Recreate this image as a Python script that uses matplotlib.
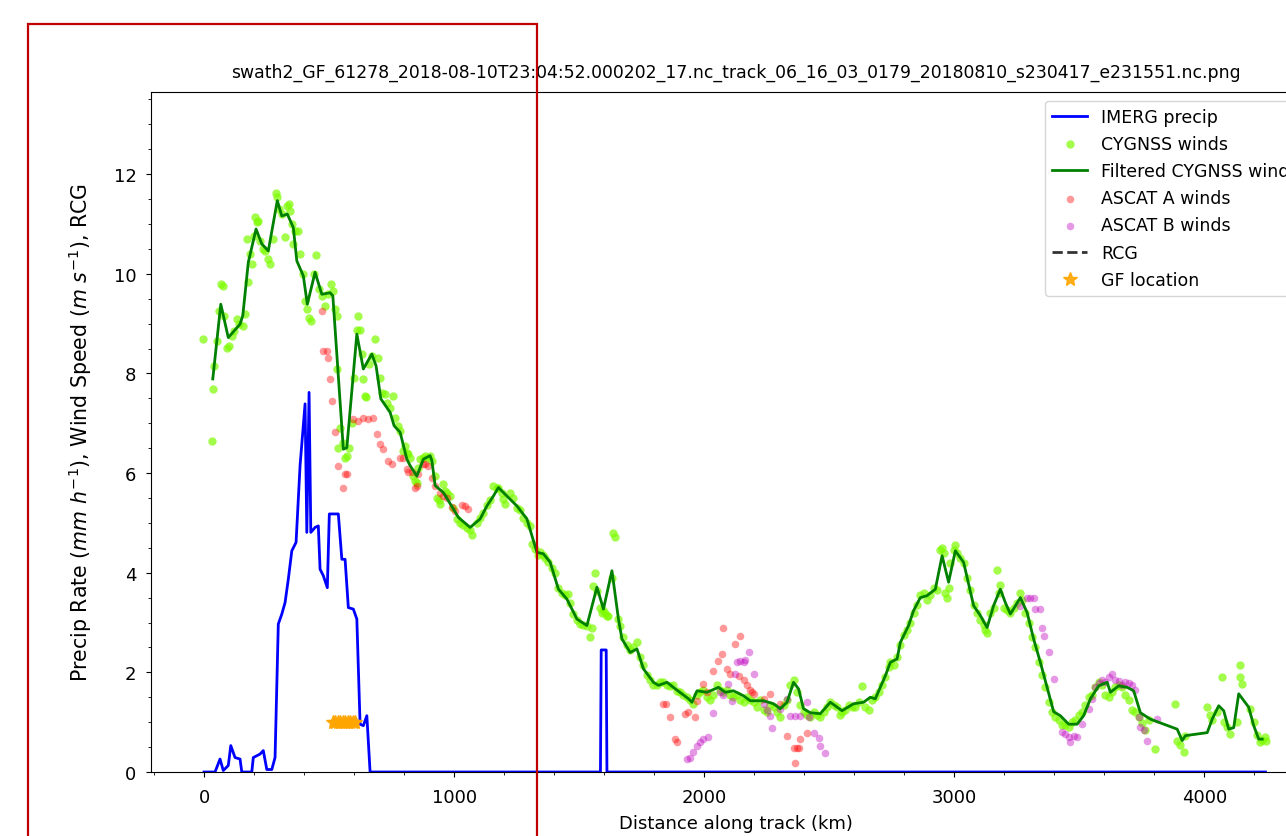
import matplotlib
matplotlib.use("Agg")
import matplotlib.pyplot as plt
from matplotlib.patches import Rectangle
from matplotlib.ticker import MultipleLocator

plt.rcParams['font.family'] = ['DejaVu Sans']

title = "swath2_GF_61278_2018-08-10T23:04:52.000202_17.nc_track_06_16_03_0179_20180810_s230417_e231551.nc.png"

# IMERG precip along track
imerg_x = [0, 44, 64, 77, 97, 107, 124, 144, 151, 191, 197, 224, 237, 251, 271, 284, 297, 311, 324,
           337, 351, 368, 384, 404, 411, 420, 427, 444, 457, 464, 477, 493, 501, 537, 551, 564, 577,
           597, 611, 624, 637, 651, 664, 1585, 1588, 1608, 1611, 4244]
imerg_y = [0, 0, 0.26, 0.03, 0.13, 0.53, 0.29, 0.26, 0, 0, 0.29, 0.36, 0.43, 0.05, 0.05, 0.29, 2.97,
           3.17, 3.40, 3.87, 4.44, 4.61, 6.15, 7.39, 4.81, 7.62, 4.81, 4.91, 4.94, 4.07, 3.94, 3.70,
           5.18, 5.18, 4.27, 4.27, 3.30, 3.27, 3.07, 0.96, 0.93, 1.13, 0, 0, 2.45, 2.45, 0, 0]

# raw CYGNSS winds
cyg_x = [-3, 31, 37, 40, 51, 60, 67, 75, 80, 92, 100, 110, 120, 131, 140, 157, 165, 171, 177, 185,
         191, 200, 204, 210, 217, 225, 237, 245, 255, 264, 277, 288, 293, 300, 310, 324, 331, 338, 344,
         350, 357, 365, 377, 385, 395, 404, 410, 421, 427, 440, 448, 460, 471, 484, 497, 507, 517, 524,
         531, 531, 537, 545, 557, 565, 571, 580, 590, 600, 611, 617, 624, 630, 637, 644, 648, 660, 670,
         684, 697, 705, 712, 724, 731, 744, 757, 765, 775, 784, 797, 805, 811, 817, 824, 837, 844, 851,
         857, 864, 877, 884, 891, 904, 911, 924, 931, 940, 944, 957, 965, 971, 984, 997, 1011, 1024,
         1037, 1050, 1064, 1071, 1091, 1104, 1117, 1131, 1144, 1157, 1170, 1177, 1190, 1197, 1204,
         1224, 1237, 1251, 1264, 1277, 1291, 1304, 1311, 1324, 1337, 1344, 1357, 1364, 1377, 1391,
         1404, 1417, 1431, 1444, 1457, 1464, 1477, 1491, 1504, 1517, 1531, 1544, 1551, 1557, 1564,
         1571, 1584, 1591, 1597, 1604, 1611, 1617, 1631, 1637, 1644, 1657, 1664, 1677, 1691, 1704,
         1717, 1731, 1744, 1757, 1771, 1784, 1797, 1811, 1824, 1837, 1851, 1864, 1877, 1891, 1904,
         1917, 1931, 1944, 1957, 1971, 1984, 1997, 2011, 2024, 2037, 2051, 2064, 2077, 2091, 2104,
         2117, 2131, 2144, 2157, 2171, 2184, 2197, 2211, 2224, 2237, 2251, 2264, 2277, 2291, 2304,
         2317, 2331, 2344, 2357, 2371, 2384, 2397, 2411, 2424, 2437, 2451, 2464, 2477, 2491, 2504,
         2517, 2531, 2544, 2551, 2564, 2577, 2591, 2604, 2617, 2631, 2644, 2657, 2671, 2684, 2697,
         2711, 2724, 2737, 2744, 2757, 2771, 2784, 2797, 2811, 2824, 2837, 2851, 2864, 2877, 2891,
         2904, 2917, 2931, 2944, 2951, 2957, 2964, 2971, 2977, 2984, 2997, 3004, 3011, 3024, 3037,
         3051, 3064, 3077, 3091, 3104, 3117, 3124, 3131, 3144, 3157, 3171, 3177, 3184, 3197, 3211,
         3224, 3237, 3251, 3264, 3271, 3284, 3297, 3311, 3324, 3337, 3351, 3364, 3377, 3391, 3404,
         3417, 3431, 3444, 3457, 3471, 3484, 3497, 3511, 3524, 3537, 3551, 3564, 3577, 3591, 3604,
         3617, 3631, 3644, 3657, 3671, 3684, 3697, 3711, 3724, 3737, 3751, 3764, 3777, 3804, 3884,
         3891, 3904, 3917, 3924, 4011, 4024, 4031, 4051, 4071, 4077, 4091, 4104, 4131, 4144, 4144,
         4151, 4184, 4197, 4211, 4224, 4231, 4241, 4248]
cyg_y = [8.70, 6.65, 7.69, 8.15, 8.66, 9.25, 9.79, 9.75, 9.15, 8.52, 8.55, 8.75, 8.85, 9.09, 9.00,
         8.95, 9.20, 10.70, 9.83, 10.40, 10.19, 10.75, 11.14, 11.05, 11.07, 10.65, 10.50, 10.45,
         10.30, 10.20, 10.70, 11.63, 11.55, 11.30, 11.20, 10.73, 11.36, 11.40, 11.26, 11.00, 10.60,
         10.85, 10.86, 10.40, 10.00, 9.46, 9.30, 9.12, 9.05, 10.00, 10.37, 9.70, 9.55, 9.36, 9.60,
         9.79, 9.66, 9.30, 9.16, 8.09, 6.51, 6.90, 6.60, 6.30, 6.35, 6.50, 7.00, 7.90, 8.88, 9.16,
         8.88, 8.40, 7.89, 7.55, 7.52, 8.20, 8.35, 8.69, 8.32, 7.90, 7.60, 7.59, 7.40, 7.30, 7.55,
         7.10, 6.95, 6.85, 6.45, 6.55, 6.40, 6.38, 6.30, 5.94, 5.85, 5.81, 6.10, 6.28, 6.30, 6.35,
         6.31, 6.35, 6.25, 5.94, 5.51, 5.45, 5.38, 5.78, 5.65, 5.60, 5.55, 5.30, 5.08, 5.00, 4.95,
         4.90, 4.85, 4.75, 5.00, 5.10, 5.20, 5.35, 5.45, 5.75, 5.70, 5.70, 5.60, 5.48, 5.38, 5.60,
         5.50, 5.30, 5.25, 5.10, 5.00, 4.94, 4.58, 4.48, 4.35, 4.41, 4.35, 4.30, 4.21, 4.10, 4.00,
         3.70, 3.60, 3.55, 3.57, 3.40, 3.17, 3.05, 2.98, 2.95, 2.94, 2.70, 2.90, 3.74, 4.00, 3.64,
         3.30, 3.20, 3.25, 3.20, 3.14, 3.14, 3.90, 4.80, 4.71, 3.07, 2.94, 2.70, 2.55, 2.45, 2.50,
         2.60, 2.30, 2.15, 1.95, 1.85, 1.75, 1.75, 1.80, 1.80, 1.75, 1.73, 1.75, 1.63, 1.60, 1.55,
         1.50, 1.45, 1.37, 1.55, 1.60, 1.65, 1.50, 1.45, 1.55, 1.75, 1.65, 1.60, 1.65, 1.55, 1.50,
         1.55, 1.45, 1.40, 1.50, 1.45, 1.40, 1.30, 1.45, 1.25, 1.20, 1.35, 1.30, 1.20, 1.10, 1.35,
         1.45, 1.75, 1.85, 1.60, 1.35, 1.20, 1.15, 1.10, 1.20, 1.15, 1.10, 1.20, 1.30, 1.40, 1.35,
         1.30, 1.15, 1.20, 1.25, 1.35, 1.30, 1.30, 1.40, 1.73, 1.30, 1.25, 1.45, 1.50, 1.60, 1.75,
         1.90, 2.10, 2.20, 2.15, 2.30, 2.55, 2.75, 2.85, 3.00, 3.20, 3.35, 3.55, 3.60, 3.45, 3.55,
         3.70, 3.65, 4.45, 4.50, 4.40, 3.60, 3.50, 3.70, 4.20, 4.45, 4.55, 4.40, 4.30, 4.20, 3.90,
         3.65, 3.35, 3.20, 3.05, 2.95, 2.85, 2.80, 3.20, 3.30, 4.05, 3.60, 3.75, 3.30, 3.25, 3.20,
         3.30, 3.40, 3.60, 3.45, 3.20, 3.00, 2.70, 2.50, 2.20, 1.95, 1.70, 1.40, 1.20, 1.10, 1.05,
         0.95, 0.95, 0.90, 1.00, 1.05, 1.15, 1.20, 1.35, 1.50, 1.55, 1.70, 1.80, 1.75, 1.55, 1.50,
         1.60, 1.70, 1.75, 1.70, 1.55, 1.45, 1.25, 1.20, 1.10, 0.98, 0.85, 1.05, 0.46, 1.37, 0.63,
         0.55, 0.40, 0.72, 1.30, 1.15, 1.05, 1.20, 1.90, 1.00, 0.90, 0.76, 1.00, 2.15, 1.90, 1.77,
         1.27, 1.00, 0.75, 0.60, 0.65, 0.70, 0.62]

# filtered CYGNSS winds
filt_x = [35, 67, 97, 144, 155, 177, 208, 231, 257, 293, 311, 333, 357, 371, 397, 413, 444, 471, 504,
          515, 557, 571, 611, 637, 671, 688, 707, 744, 760, 784, 811, 824, 851, 877, 904, 911, 924,
          957, 997, 1017, 1064, 1104, 1131, 1157, 1177, 1211, 1251, 1291, 1331, 1357, 1384, 1417,
          1451, 1491, 1531, 1571, 1597, 1631, 1657, 1671, 1704, 1731, 1757, 1797, 1817, 1851, 1884,
          1937, 1951, 1971, 2011, 2057, 2084, 2117, 2157, 2184, 2237, 2277, 2304, 2331, 2357, 2377,
          2397, 2424, 2464, 2504, 2551, 2597, 2637, 2664, 2684, 2724, 2744, 2771, 2784, 2817, 2837,
          2864, 2891, 2924, 2951, 2977, 3004, 3037, 3077, 3104, 3131, 3157, 3184, 3204, 3224, 3264,
          3291, 3317, 3344, 3371, 3397, 3424, 3457, 3491, 3517, 3544, 3577, 3611, 3624, 3657, 3691,
          3717, 3744, 3784, 3837, 3891, 3911, 3924, 4011, 4031, 4057, 4077, 4097, 4117, 4137, 4177,
          4197, 4217, 4231]
filt_y = [7.89, 9.39, 8.72, 8.99, 9.16, 10.23, 10.90, 10.60, 10.46, 11.47, 11.16, 11.20, 10.93,
          10.26, 9.96, 9.39, 10.03, 9.59, 9.62, 9.56, 6.48, 6.51, 8.79, 8.09, 8.39, 8.15, 7.49, 7.22,
          6.95, 6.82, 6.28, 6.15, 5.94, 6.28, 6.35, 6.25, 5.75, 5.61, 5.28, 5.11, 4.91, 5.08, 5.34,
          5.54, 5.71, 5.54, 5.34, 5.08, 4.41, 4.38, 4.21, 3.67, 3.47, 3.07, 2.94, 3.71, 3.27, 4.04,
          3.07, 2.67, 2.40, 2.47, 2.07, 1.80, 1.74, 1.80, 1.67, 1.47, 1.40, 1.63, 1.60, 1.70, 1.60,
          1.63, 1.53, 1.43, 1.43, 1.37, 1.27, 1.40, 1.80, 1.67, 1.27, 1.19, 1.17, 1.40, 1.23, 1.37,
          1.40, 1.50, 1.47, 1.93, 2.20, 2.27, 2.60, 2.94, 3.24, 3.50, 3.54, 3.67, 4.34, 3.81, 4.44,
          4.21, 3.34, 3.14, 2.90, 3.34, 3.67, 3.40, 3.17, 3.50, 3.20, 2.67, 2.20, 1.70, 1.21, 1.13,
          0.96, 0.96, 1.13, 1.47, 1.73, 1.80, 1.60, 1.73, 1.70, 1.63, 1.19, 1.06, 0.96, 0.86, 0.63,
          0.73, 0.79, 1.06, 1.33, 1.23, 0.86, 0.89, 1.57, 1.30, 0.93, 0.66, 0.66]

# ASCAT A winds
ascat_a_x = [471, 477, 491, 497, 504, 511, 524, 537, 557, 564, 571, 597, 617, 637, 657, 677, 691, 704,
             717, 737, 751, 784, 797, 811, 817, 831, 844, 851, 857, 877, 884, 897, 911, 924, 944,
             957, 971, 991, 1004, 1031, 1044, 1057, 1837, 1847, 1864, 1884, 1891, 1924, 1934, 1964,
             1971, 1997, 2011, 2037, 2057, 2071, 2077, 2091, 2104, 2124, 2137, 2144, 2157, 2171, 2184,
             2191, 2197, 2237, 2264, 2304, 2331, 2357, 2364, 2371, 2377, 2384, 2411]
ascat_a_y = [9.26, 8.46, 8.46, 8.32, 7.89, 7.45, 6.82, 6.15, 5.71, 5.98, 5.98, 7.08, 7.05, 7.10, 7.08,
             7.10, 6.78, 6.58, 6.48, 6.25, 6.18, 6.31, 6.31, 6.08, 6.03, 6.02, 5.71, 5.75, 5.98, 6.18,
             6.19, 6.15, 5.91, 5.75, 5.60, 5.55, 5.51, 5.31, 5.24, 5.35, 5.34, 5.28, 1.37, 1.37, 1.10,
             0.66, 0.60, 1.16, 1.20, 1.10, 1.43, 1.77, 1.60, 2.03, 2.23, 2.37, 2.90, 2.07, 1.97, 2.57,
             1.93, 2.74, 1.85, 1.75, 1.65, 1.60, 1.57, 1.47, 1.57, 1.37, 0.73, 0.48, 0.19, 0.48, 0.48,
             0.66, 0.79]

# ASCAT B winds
ascat_b_x = [1931, 1944, 1957, 1971, 1984, 1997, 2017, 2037, 2064, 2077, 2097, 2111, 2124, 2131, 2144,
             2157, 2164, 2177, 2197, 2237, 2251, 2264, 2271, 2304, 2331, 2344, 2364, 2384, 2411, 2417,
             2437, 2457, 2464, 2484, 3264, 3291, 3304, 3317, 3324, 3344, 3351, 3360, 3377, 3397, 3431,
             3444, 3457, 3464, 3477, 3491, 3511, 3537, 3551, 3564, 3577, 3591, 3604, 3617, 3631,
             3644, 3657, 3671, 3684, 3697, 3711, 3724, 3737, 3744, 3757, 3771, 3811]
ascat_b_y = [0.26, 0.28, 0.40, 0.52, 0.60, 0.66, 0.70, 1.19, 1.60, 1.55, 1.77, 1.43, 1.97, 2.20, 2.22,
             2.20, 2.25, 2.40, 1.97, 1.37, 1.25, 1.13, 0.89, 1.27, 1.47, 1.13, 1.13, 1.13, 1.40, 1.10,
             0.79, 0.69, 0.53, 0.39, 3.34, 3.50, 3.50, 3.50, 3.27, 3.27, 2.90, 2.74, 2.40, 1.87, 0.80,
             0.76, 0.70, 0.60, 0.72, 0.70, 0.96, 1.27, 1.47, 1.70, 1.78, 1.85, 1.80, 1.90, 1.97, 1.85,
             1.82, 1.75, 1.80, 1.78, 1.75, 1.65, 1.10, 0.90, 0.85, 0.63, 1.06]

# GF location
gf_x = [515, 525, 535, 545, 555, 565, 575, 585, 595, 605]
gf_y = [1.0, 1.0, 1.0, 1.0, 1.0, 1.0, 1.0, 1.0, 1.0, 1.0]

fig = plt.figure(figsize=(12.86, 8.37), dpi=100)
ax = fig.add_axes([151 / 1286, 1 - 773 / 837, (1320 - 151) / 1286, (773 - 93) / 837])

ax.plot(imerg_x, imerg_y, color='blue', lw=2, label='IMERG precip')
ax.scatter(cyg_x, cyg_y, s=36, color='lawngreen', alpha=0.7, lw=0, label='CYGNSS winds')
ax.plot(filt_x, filt_y, color='green', lw=2, label='Filtered CYGNSS winds')
ax.scatter(ascat_a_x, ascat_a_y, s=30, color='red', alpha=0.4, lw=0, label='ASCAT A winds')
ax.scatter(ascat_b_x, ascat_b_y, s=30, color='m', alpha=0.4, lw=0, label='ASCAT B winds')
ax.plot([], [], 'k--', lw=2, alpha=0.8, label='RCG')
ax.plot(gf_x, gf_y, '*', color='orange', ms=10, alpha=0.9, label='GF location')

ax.set_xlim(-212, 4462)
ax.set_ylim(0, 13.65)
ax.xaxis.set_major_locator(MultipleLocator(1000))
ax.xaxis.set_minor_locator(MultipleLocator(200))
ax.yaxis.set_major_locator(MultipleLocator(2))
ax.yaxis.set_minor_locator(MultipleLocator(0.5))
ax.tick_params(labelsize=13)
ax.tick_params(axis='x', which='major', pad=8)
ax.tick_params(axis='y', which='major', pad=7)

ax.set_title(title, fontsize=12.4, pad=11)
ax.set_xlabel('Distance along track (km)', fontsize=13, labelpad=5.5)
ax.set_ylabel(r'Precip Rate ($mm\ h^{-1}$), Wind Speed ($m\ s^{-1}$), RCG', fontsize=14.8,
              labelpad=14)

ax.legend(loc='upper right', bbox_to_anchor=(1 - 6 / 1169, 1), fontsize=12.5, labelspacing=0.53)

# highlight box
fig.patches.append(Rectangle((28 / 1286, -0.1), (537 - 28) / 1286, 1.1 - 25 / 837,
                             transform=fig.transFigure, fill=False, edgecolor='#c00000', lw=1.6))

fig.savefig('out.png', dpi=100)
